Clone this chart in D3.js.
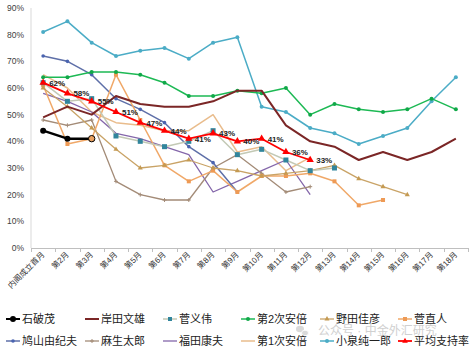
<!DOCTYPE html>
<html><head><meta charset="utf-8">
<script src="https://cdn.jsdelivr.net/npm/d3@7"></script>
<style>
html,body{margin:0;padding:0;background:#fff;}
svg{display:block;font-family:"Liberation Sans","Noto Sans CJK SC",Arial,sans-serif;}
</style></head>
<body><svg id="c" width="475" height="355"></svg>
<script>
// ---- data ----
const categories = ["内阁成立首月","第2月","第3月","第4月","第5月","第6月","第7月","第8月","第9月","第10月","第11月","第12月","第13月","第14月","第15月","第16月","第17月","第18月"];
const yTickValues = [0,10,20,30,40,50,60,70,80,90];
const yTickLabels = ["0%","10%","20%","30%","40%","50%","60%","70%","80%","90%"];

const koizumi   = [81,85,77,72,74,75,71,77,79,53,51,45,43,39,42,45,55,64];
const abe1      = [65,60,51,47,46,44,44,50,36,38,29,34];
const fukuda    = [58,55,51,43,41,38,35,21,25,29,33,20];
const aso       = [48,46,48,25,20,18,18,30,35,28,21,23];
const hatoyama  = [72,70,65,56,52,47,38,32,21];
const kan       = [61,39,41,65,48,31,25,29,21,27,27,28,25,16,18];
const noda      = [60,53,45,37,30,31,33,30,29,27,28,29,31,26,23,20];
const abe2      = [64,64,66,66,65,62,57,57,59,58,60,50,54,52,51,52,56,52];
const suga      = [62,55,56,42,40,38,40,44,35,37,33,29,30];
const kishida   = [49,53,50,57,54,53,53,55,59,59,46,40,38,33,36,33,36,41];
const ishiba    = [44,41,41];
const average   = [62,58,55,51,47,44,41,43,40,41,36,33];

// ---- styles (drawing order) ----
const series = [
  {name:"小泉纯一郎", data:koizumi,  color:"#4BACC6", w:1.5, marker:"circle", ms:2, mc:"#4BACC6"},
  {name:"第1次安倍", data:abe1,     color:"#E9BC8C", w:1.5, marker:null},
  {name:"福田康夫",   data:fukuda,   color:"#8466AA", w:1.3, marker:null},
  {name:"麻生太郎",   data:aso,      color:"#A38B77", w:1.3, marker:"plus", ms:2, mc:"#A38B77"},
  {name:"鸠山由纪夫", data:hatoyama, color:"#5E6FA8", w:1.5, marker:"circle", ms:1.8, mc:"#4A64B0"},
  {name:"菅直人",     data:kan,      color:"#F0A868", w:1.5, marker:"square", ms:4, mc:"#EE9A55"},
  {name:"野田佳彦",   data:noda,     color:"#C9A366", w:1.3, marker:"triangle", ms:4.5, mc:"#C49A52"},
  {name:"第2次安倍", data:abe2,     color:"#1DB954", w:1.5, marker:"circle", ms:2, mc:"#10A848"},
  {name:"菅义伟",     data:suga,     color:"#C3C9B5", w:1.5, marker:"square", ms:5, mc:"#31859C"},
  {name:"岸田文雄",   data:kishida,  color:"#7B2626", w:2, marker:null},
  {name:"石破茂",     data:ishiba,   color:"#000000", w:2.5, marker:"circle", ms:3, mc:"#000000"},
  {name:"平均支持率", data:average,  color:"#FF0000", w:1.8, marker:"triangle", ms:6.5, mc:"#FF0000", labels:true}
];
const legendOrder = ["石破茂","岸田文雄","菅义伟","第2次安倍","野田佳彦","菅直人",
                     "鸠山由纪夫","麻生太郎","福田康夫","第1次安倍","小泉纯一郎","平均支持率"];

const svg = d3.select("#c");
const x = d3.scaleBand().domain(categories).range([31, 468]);
const y = d3.scaleLinear().domain([0, 90]).range([248, 8]);
const cx = c => x(c) + x.bandwidth()/2;

// y axis
svg.append("line").attr("x1",31).attr("x2",31).attr("y1",y(90)).attr("y2",y(0))
   .attr("stroke","#D9D9D9").attr("stroke-width",1);
svg.append("g").selectAll("text").data(yTickValues).join("text")
   .attr("x",24).attr("y",d=>y(d)+3).attr("text-anchor","end")
   .attr("font-size",8.5).attr("fill","#404040")
   .text((d,i)=>yTickLabels[i]);

// x axis
svg.append("line").attr("x1",x.range()[0]).attr("x2",x.range()[1]).attr("y1",y(0)+0.5).attr("y2",y(0)+0.5)
   .attr("stroke","#BFBFBF").attr("stroke-width",1);
const bounds = categories.map(c=>x(c)).concat([x.range()[1]]);
svg.append("g").selectAll("line").data(bounds).join("line")
   .attr("x1",d=>Math.round(d)+0.5).attr("x2",d=>Math.round(d)+0.5)
   .attr("y1",y(0)).attr("y2",y(0)+4).attr("stroke","#BFBFBF");
svg.append("g").selectAll("text").data(categories).join("text")
   .attr("transform",c=>`translate(${cx(c)+2},${y(0)+7}) rotate(-45)`)
   .attr("text-anchor","end").attr("font-size",8).attr("fill","#333")
   .text(c=>c);

function drawMarker(g, type, s, color){
  if(type==="circle") g.append("circle").attr("r",s).attr("fill",color);
  else if(type==="square") g.append("rect").attr("x",-s/2).attr("y",-s/2).attr("width",s).attr("height",s).attr("fill",color);
  else if(type==="triangle") g.append("path").attr("d",d3.symbol(d3.symbolTriangle, s*s*0.55)()).attr("fill",color);
  else if(type==="plus") g.append("path").attr("d",`M${-s},0H${s}M0,${-s}V${s}`).attr("stroke",color).attr("stroke-width",1);
}

const line = d3.line().x((d,i)=>cx(categories[i])).y(d=>y(d));
series.forEach(s=>{
  const g = svg.append("g");
  g.append("path").attr("d",line(s.data)).attr("fill","none")
   .attr("stroke",s.color).attr("stroke-width",s.w).attr("stroke-linejoin","round");
  if(s.marker){
    s.data.forEach((v,i)=>{
      const mg = g.append("g").attr("transform",`translate(${cx(categories[i])},${y(v)})`);
      if(s.name==="石破茂" && i===s.data.length-1){
        mg.append("circle").attr("r",3.2).attr("fill","#E8A060").attr("stroke","#000").attr("stroke-width",1);
      } else drawMarker(mg, s.marker, s.ms, s.mc);
    });
  }
  if(s.labels){
    g.selectAll("text.lab").data(s.data).join("text").attr("class","lab")
     .attr("x",(d,i)=>cx(categories[i])+6).attr("y",d=>y(d)+3)
     .attr("font-size",8).attr("font-weight","bold").attr("fill","#222")
     .text(d=>d+"%");
  }
});

// legend
const byName = Object.fromEntries(series.map(s=>[s.name,s]));
const colX = [6,85,163,241,320,398], rowY = [319,341];
legendOrder.forEach((n,i)=>{
  const s = byName[n];
  const lx = colX[i%6], ly = rowY[Math.floor(i/6)];
  const g = svg.append("g").attr("transform",`translate(${lx},${ly})`);
  g.append("line").attr("x1",0).attr("x2",14).attr("y1",0).attr("y2",0)
   .attr("stroke",s.color).attr("stroke-width",Math.min(s.w,2));
  if(s.marker){
    const mg = g.append("g").attr("transform","translate(7,0)");
    drawMarker(mg, s.marker, s.marker==="triangle"?Math.min(s.ms,5):Math.min(s.ms,4), s.mc);
  }
  g.append("text").attr("x",16).attr("y",4).attr("font-size",11).attr("fill","#222").text(n);
});

// watermark
const wm = svg.append("g").attr("opacity",0.55);
wm.append("ellipse").attr("cx",300).attr("cy",329).attr("rx",4).attr("ry",3.3).attr("fill","#bbb");
wm.append("ellipse").attr("cx",305).attr("cy",333).attr("rx",3.5).attr("ry",2.8).attr("fill","#bbb").attr("stroke","#fff").attr("stroke-width",0.8);
wm.append("text").attr("x",318).attr("y",335).attr("font-size",12).attr("fill","#aaa").text("公众号 · 中金外汇研究");
</script></body></html>
